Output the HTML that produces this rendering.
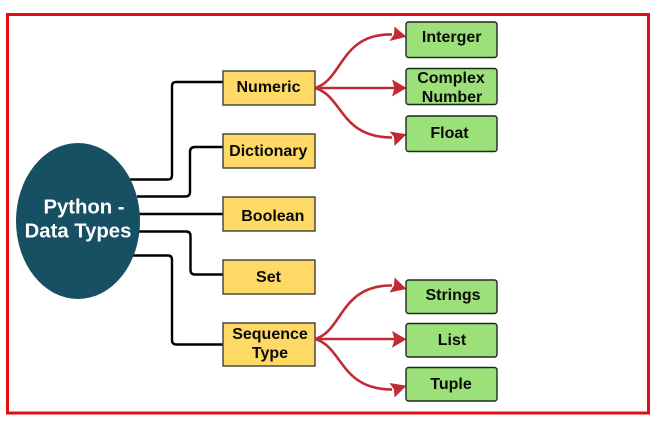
<!DOCTYPE html>
<html>
<head>
<meta charset="utf-8">
<style>
html,body{margin:0;padding:0;background:#fff;width:669px;height:429px;overflow:hidden}
svg{display:block}
text{font-family:"Liberation Sans",sans-serif;font-weight:bold;fill:#0a0a0a;font-size:16px;text-anchor:middle}
.y{fill:#ffd966;stroke:#3f3f33;stroke-width:1.4}
.g{fill:#9ce07a;stroke:#1c2a1c;stroke-width:1.4}
.k{fill:none;stroke:#000;stroke-width:2.4}
.r{fill:none;stroke:#c22b35;stroke-width:2.6}
.a{fill:#c22b35}
</style>
</head>
<body>
<svg width="669" height="429" viewBox="0 0 669 429" xmlns="http://www.w3.org/2000/svg">
<rect x="7.500" y="14.500" width="641" height="398.500" fill="#fff" stroke="#e30d14" stroke-width="3"/>

<path class="k" d="M130 179.500H168Q172 179.500 172 175.500V86Q172 82 176 82H224"/>
<path class="k" d="M137 196.500H185Q190 196.500 190 192V152Q190 147 195 147H224"/>
<path class="k" d="M139 214H224"/>
<path class="k" d="M138 231.500H186Q190.500 231.500 190.500 236V270Q190.500 274.500 195 274.500H224"/>
<path class="k" d="M133 255.500H168Q172 255.500 172 260V340Q172 344.500 176.500 344.500H224"/>

<ellipse cx="78" cy="221" rx="62" ry="78" fill="#174f63"/>
<text x="84" y="213.500" style="fill:#fff;font-size:20.300px">Python -</text>
<text x="78" y="237.500" style="fill:#fff;font-size:20.300px">Data Types</text>

<rect class="y" x="223" y="71" width="92" height="34"/>
<rect class="y" x="223" y="134" width="92" height="34"/>
<rect class="y" x="223" y="197" width="92" height="34"/>
<rect class="y" x="223" y="260" width="92" height="34"/>
<rect class="y" x="223" y="323" width="92" height="43"/>
<text x="268.500" y="92">Numeric</text>
<text x="268.300" y="156">Dictionary</text>
<text x="272.800" y="221">Boolean</text>
<text x="268.500" y="282">Set</text>
<text x="270" y="339">Sequence</text>
<text x="270" y="358">Type</text>

<path class="r" d="M315 88C343 80 340 33.500 392 34.500"/>
<path class="r" d="M315 88H398"/>
<path class="r" d="M315 88C343 96 340 137.500 392 137.500"/>
<path class="a" d="M406.500 36.700L394.500 26.500L394 34.500L389.500 41Z"/>
<path class="a" d="M406.500 88L392 79.500L394.500 88L392 96.500Z"/>
<path class="a" d="M406.500 134.300L389.500 131.500L394 137L394.500 146Z"/>

<path class="r" d="M315 339C343 331 340 285 392 285.500"/>
<path class="r" d="M315 339H398"/>
<path class="r" d="M315 339C343 347 340 389.500 392 389.500"/>
<path class="a" d="M406.500 289L394.500 277.500L394 285.500L389.500 292.500Z"/>
<path class="a" d="M406.500 339.300L392 331L394.500 339.300L392 347.800Z"/>
<path class="a" d="M406.500 385.700L389.500 383L394 389.500L394.500 397.500Z"/>

<rect class="g" x="406" y="22" width="91" height="35.500" rx="2.500"/>
<rect class="g" x="406" y="68.500" width="91" height="36" rx="2.500"/>
<rect class="g" x="406" y="116" width="91" height="35.500" rx="2.500"/>
<rect class="g" x="406" y="280" width="91" height="33.500" rx="2.500"/>
<rect class="g" x="406" y="323.500" width="91" height="33.500" rx="2.500"/>
<rect class="g" x="406" y="367.500" width="91" height="33.500" rx="2.500"/>
<text x="451.700" y="42">Interger</text>
<text x="451" y="83">Complex</text>
<text x="452" y="102">Number</text>
<text x="449.500" y="138">Float</text>
<text x="453" y="300">Strings</text>
<text x="452" y="345">List</text>
<text x="451" y="389">Tuple</text>
</svg>
</body>
</html>
